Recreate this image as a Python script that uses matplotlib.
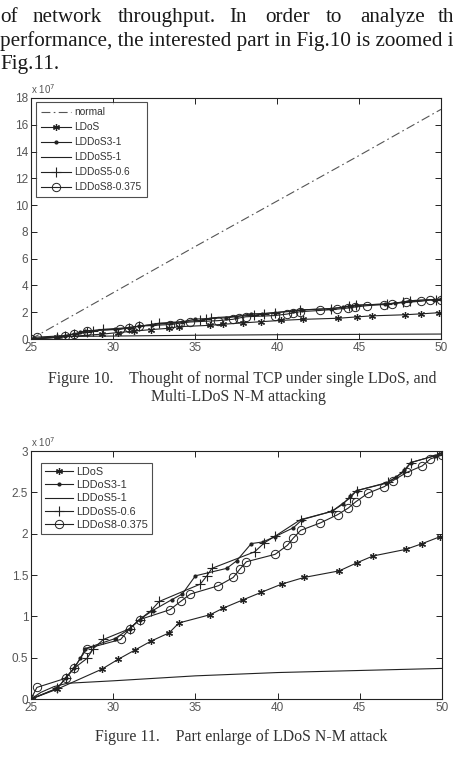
import matplotlib
matplotlib.use("Agg")
import matplotlib.pyplot as plt
import numpy as np

# ---------------- data (units of 1e7) ----------------
x_normal = [25, 30, 35, 40, 45, 50]
y_normal = [0.0, 3.45, 6.9, 10.3, 13.7, 17.15]

x_ldos = [25.0, 26.6, 29.3, 30.3, 31.3, 32.3, 33.4, 34.0, 35.9, 36.7, 37.9, 39.0,
          40.25, 41.6, 43.75, 44.85, 45.8, 47.8, 48.8, 49.9]
y_ldos = [0.0, 0.12, 0.36, 0.48, 0.59, 0.70, 0.80, 0.92, 1.02, 1.10, 1.20, 1.29,
          1.39, 1.47, 1.55, 1.65, 1.73, 1.81, 1.88, 1.965]

x_s31 = [25, 26.6, 27.1, 27.6, 28.0, 28.3, 30.1, 31.0, 31.6, 32.4, 33.55, 34.2, 35.0,
         36.9, 37.5, 38.4, 39.1, 39.85, 40.95, 41.5, 43.3, 44.0, 44.4, 44.8, 46.6,
         47.2, 47.7, 48.1, 49.6, 50.0]
y_s31 = [0, 0.13, 0.25, 0.37, 0.49, 0.61, 0.73, 0.85, 0.96, 1.07, 1.20, 1.27, 1.49,
         1.58, 1.67, 1.88, 1.90, 1.965, 2.07, 2.17, 2.27, 2.36, 2.45, 2.52, 2.61,
         2.68, 2.77, 2.86, 2.945, 2.97]

x_s51 = [25, 25.6, 26.4, 27.2, 30, 35, 40, 45, 50]
y_s51 = [0, 0.08, 0.15, 0.19, 0.22, 0.28, 0.32, 0.345, 0.37]

x_s506 = [25, 26.6, 27.1, 27.6, 28.4, 28.8, 29.4, 31.0, 31.6, 32.3, 32.8, 35.3, 35.7,
          36.0, 38.6, 39.2, 39.85, 41.4, 43.3, 44.4, 44.8, 46.7, 47.7, 48.1, 49.7, 50]
y_s506 = [0, 0.13, 0.25, 0.37, 0.49, 0.61, 0.72, 0.85, 0.96, 1.07, 1.18, 1.39, 1.49,
          1.58, 1.78, 1.89, 1.97, 2.17, 2.27, 2.43, 2.52, 2.62, 2.75, 2.86, 2.95, 2.97]

x_s8 = [25, 25.36, 27.1, 27.6, 28.4, 30.45, 31.0, 31.6, 33.45, 34.1, 34.7, 36.4, 37.3,
        37.7, 38.1, 39.85, 40.6, 40.95, 41.4, 42.6, 43.65, 44.3, 44.75, 45.5, 46.5,
        47.0, 47.85, 48.8, 49.3, 50]
y_s8 = [0, 0.14, 0.25, 0.37, 0.61, 0.72, 0.85, 0.96, 1.08, 1.18, 1.27, 1.37, 1.47,
        1.57, 1.66, 1.75, 1.86, 1.945, 2.04, 2.13, 2.23, 2.31, 2.385, 2.49, 2.57,
        2.64, 2.74, 2.82, 2.905, 2.95]

labels = ["normal", "LDoS", "LDDoS3-1", "LDDoS5-1", "LDDoS5-0.6", "LDDoS8-0.375"]

line1_words = ["of", "network", "throughput.", "In", "order", "to", "analyze", "th"]
line1_x = [0, 33, 118, 229, 265, 326, 360, 438]

# ---------------- page ----------------
W, H = 453, 759
fig = plt.figure(figsize=(W / 100, H / 100), dpi=100)
fig.patch.set_facecolor("white")

serif = "Liberation Serif"
sans = "Liberation Sans"

def ftext(x, y, s, **kw):
    fig.text(x / W, 1 - y / H, s, **kw)

body = dict(family=serif, fontsize=15.2, color="#1a1a1a", va="baseline")
for wx, w in zip(line1_x, line1_words):
    ftext(wx, 22, w, **body)
ftext(0, 46, "performance, the interested part in Fig.10 is zoomed i", **body)
ftext(0, 69, "Fig.11.", **body)

cap = dict(family=serif, fontsize=11.4, color="#333333", va="center", ha="center")
ftext(242, 379, "Figure 10.    Thought of normal TCP under single LDoS, and", **cap)
ftext(238, 397, "Multi-LDoS N-M attacking", **cap)
ftext(241, 737, "Figure 11.    Part enlarge of LDoS N-M attack", **cap)

LC = "#222222"
TC = "#555555"

def axes_px(l, t, r, b):
    return fig.add_axes([l / W, 1 - b / H, (r - l) / W, (b - t) / H])

def style(ax, yticks, ylabels):
    ax.set_xlim(25, 50)
    ax.set_xticks([25, 30, 35, 40, 45, 50])
    ax.set_yticks(yticks)
    ax.set_yticklabels(ylabels)
    ax.tick_params(direction="in", length=4, width=0.7, top=True, right=True,
                   labelsize=8.5, colors=LC, labelcolor=TC, pad=2)
    for lab in ax.get_xticklabels() + ax.get_yticklabels():
        lab.set_family(sans)
    for s in ax.spines.values():
        s.set_linewidth(0.8)
        s.set_color(LC)
    ax.text(0.0, 1.01, r"x 10$^{7}$", transform=ax.transAxes, fontsize=7,
            family=sans, color=TC, va="bottom", ha="left")

def draw_series(ax):
    kw = dict(lw=0.8, color=LC)
    h1 = ax.plot(x_ldos, y_ldos, marker=(6, 2, 0), ms=5, mew=0.9, **kw)[0]
    h2 = ax.plot(x_s31, y_s31, marker=".", ms=4, **kw)[0]
    h3 = ax.plot(x_s51, y_s51, **kw)[0]
    h4 = ax.plot(x_s506, y_s506, marker="+", ms=7, mew=0.8, **kw)[0]
    h5 = ax.plot(x_s8, y_s8, marker="o", ms=6, mfc="none", mew=0.7, **kw)[0]
    return [h1, h2, h3, h4, h5]

# ---------------- Figure 10 ----------------
ax1 = axes_px(31, 98, 441, 339)
hn = ax1.plot(x_normal, y_normal, ls=(0, (8, 3, 1.5, 3)), lw=0.8, color="#555555")[0]
hs = draw_series(ax1)
ax1.set_ylim(0, 18)
style(ax1, np.arange(0, 19, 2), [str(v) for v in range(0, 19, 2)])
leg1 = ax1.legend([hn] + hs, labels, loc="upper left",
                  bbox_to_anchor=(36 / W, 1 - 102 / H), bbox_transform=fig.transFigure,
                  prop=dict(family=sans, size=7.3), frameon=True, fancybox=False,
                  edgecolor=LC, handlelength=3.0, handletextpad=0.3,
                  labelspacing=0.5, borderpad=0.5, borderaxespad=0)
leg1.get_frame().set_linewidth(0.8)
for t in leg1.get_texts():
    t.set_color("#333333")

# ---------------- Figure 11 ----------------
ax2 = axes_px(31, 451, 442, 699)
hs2 = draw_series(ax2)
ax2.set_ylim(0, 3)
style(ax2, [0, 0.5, 1, 1.5, 2, 2.5, 3], ["0", "0.5", "1", "1.5", "2", "2.5", "3"])
leg2 = ax2.legend(hs2, labels[1:], loc="upper left",
                  bbox_to_anchor=(40.5 / W, 1 - 462.5 / H), bbox_transform=fig.transFigure,
                  prop=dict(family=sans, size=7.8), frameon=True, fancybox=False,
                  edgecolor=LC, handlelength=2.6, handletextpad=0.3,
                  labelspacing=0.3, borderpad=0.4, borderaxespad=0)
leg2.get_frame().set_linewidth(0.8)
for t in leg2.get_texts():
    t.set_color("#333333")

fig.savefig("out.png", dpi=100, facecolor="white")
